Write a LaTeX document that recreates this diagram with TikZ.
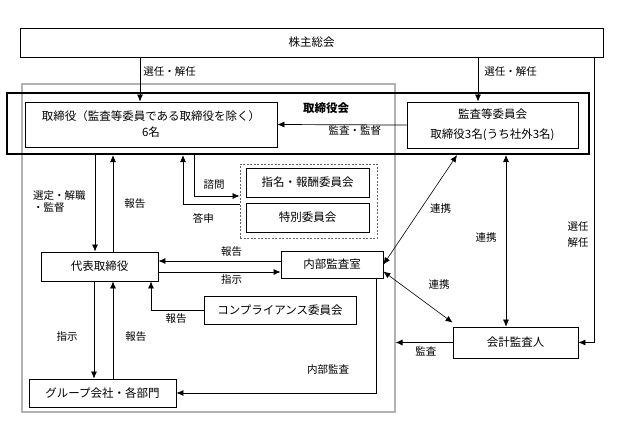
\documentclass[tikz,border=0pt]{standalone}
\usepackage{fontspec}
\setmainfont{Noto Sans CJK JP}
\usetikzlibrary{arrows.meta}

\begin{document}
\begin{tikzpicture}[x=1pt, y=-1pt, >={Latex[length=7pt,width=6pt]}, line width=0.7pt,
	box/.style={draw, line width=0.8pt, inner sep=0pt, align=center, font=\fontsize{11.5}{16}\selectfont},
	lbl/.style={inner sep=1pt, font=\fontsize{10.5}{12}\selectfont}]
	\useasboundingbox (0,0) rectangle (619,437);
	\node[draw=gray!60, line width=1.1pt, minimum width=373pt, minimum height=328pt] (kaisha) at (208.5,248) {};
	\node[draw, line width=2.2pt, minimum width=582pt, minimum height=61pt] (kai) at (298,123.5) {};
	\node[font=\bfseries\fontsize{11.5}{14}\selectfont] (kaiLbl) at (326,108) {取締役会};

	\node[box, minimum width=583pt, minimum height=29pt] (kabunushi) at (311.5,42.5) {株主総会};
	\node[box, minimum width=252pt, minimum height=45pt] (torishimari) at (151,124.5) {取締役（監査等委員である取締役を除く）\\6名};
	\node[box, minimum width=171pt, minimum height=46pt] (kansa) at (492.5,125) {監査等委員会\\[4pt]取締役3名(うち社外3名)};
	\node[draw=gray!80!black, line width=0.8pt, dash pattern=on 2pt off 1.5pt, minimum width=137pt, minimum height=74pt] (iinkai) at (308.5,201) {};
	\node[box, minimum width=123pt, minimum height=29pt] (shimei) at (307.5,182.5) {指名・報酬委員会};
	\node[box, minimum width=123pt, minimum height=29pt] (tokubetsu) at (307.5,217.5) {特別委員会};
	\node[box, minimum width=117pt, minimum height=29pt] (daihyo) at (99.5,266.5) {代表取締役};
	\node[box, minimum width=102pt, minimum height=27pt] (naibu) at (332,264.5) {内部監査室};
	\node[box, minimum width=152pt, minimum height=28pt] (compliance) at (280,310) {コンプライアンス委員会};
	\node[box, minimum width=147pt, minimum height=28pt] (group) at (102.5,393) {グループ会社・各部門};
	\node[box, minimum width=125pt, minimum height=31pt] (kaikei) at (515.5,342.5) {会計監査人};

	\draw[->] (140,0 |- kabunushi.south) -- (140,0 |- torishimari.north) node[lbl, pos=0.33, right, xshift=2pt] {選任・解任};
	\draw[->] (478,0 |- kabunushi.south) -- (478,0 |- kansa.north) node[lbl, pos=0.33, right, xshift=5pt] {選任・解任};
	\draw[->] (594,0 |- kabunushi.south) -- node[lbl, pos=0.62, left, align=center, xshift=-4pt] {選任\\[4pt]解任} (594,0 |- kaikei.east) -- (kaikei.east);
	\draw[->] (kansa.west) -- (torishimari.east) node[lbl, pos=0.4, below] {監査・監督};

	\draw[->] (95,0 |- kai.south) -- (95,0 |- daihyo.north) node[lbl, pos=0.48, left, align=left, xshift=-8pt] {選定・解職\\・監督};
	\draw[->] (113,0 |- daihyo.north) -- (113,0 |- kai.south) node[lbl, pos=0.5, right, xshift=10pt] {報告};
	\draw[->] (194,0 |- kai.south) |- (iinkai.west |- 0,196) node[lbl, pos=0.72, above, yshift=5pt] {諮問};
	\draw[->] (iinkai.west |- 0,204) -| (183,0 |- kai.south) node[lbl, pos=0.32, below, yshift=-8pt] {答申};

	\draw[->] (naibu.west |- 0,261) -- (daihyo.east |- 0,261) node[lbl, pos=0.4, above, yshift=3pt] {報告};
	\draw[->] (daihyo.east |- 0,272) -- (naibu.west |- 0,272) node[lbl, pos=0.6, below, yshift=-1pt] {指示};
	\draw[->] (compliance.west) -| (151,0 |- daihyo.south) node[lbl, pos=0.26, below, yshift=-2pt] {報告};
	\draw[->] (94,0 |- daihyo.south) -- (94,0 |- group.north) node[lbl, pos=0.57, left, xshift=-15pt] {指示};
	\draw[->] (113,0 |- group.north) -- (113,0 |- daihyo.south) node[lbl, pos=0.43, right, xshift=11pt] {報告};
	\draw[->] (376,0 |- naibu.south) |- (group.east) node[lbl, pos=0.62, above, yshift=17pt] {内部監査};
	\draw[->] (kaikei.west) -- (kaisha.east |- kaikei.west) node[lbl, pos=0.47, below, yshift=-3pt] {監査};

	\draw[<->, line width=0.6pt] (457,0 |- kai.south) -- (naibu.east) node[lbl, pos=0.49, right, xshift=8pt] {連携};
	\draw[<->, line width=0.6pt] (506,0 |- kai.south) -- (506,0 |- kaikei.north) node[lbl, pos=0.48, left, xshift=-8pt] {連携};
	\draw[<->, line width=0.6pt] ([yshift=-7pt]naibu.east) -- ([yshift=4pt]kaikei.north west) node[lbl, pos=0.26, right, xshift=26pt] {連携};
\end{tikzpicture}
\end{document}
